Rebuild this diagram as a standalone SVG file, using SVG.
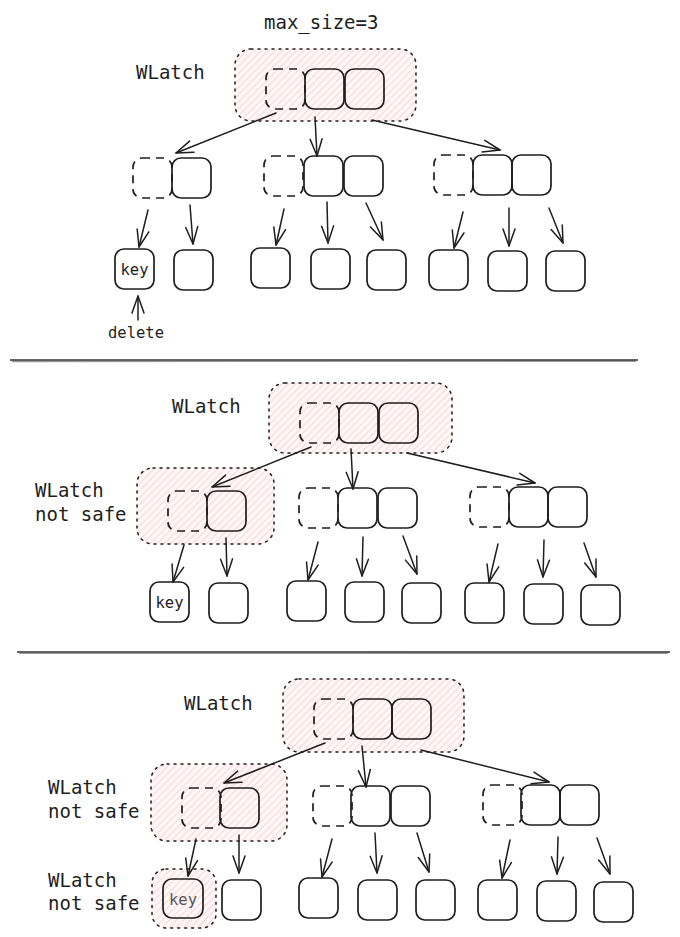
<svg xmlns="http://www.w3.org/2000/svg" width="680" height="937" viewBox="0 0 680 937">
<defs>
<pattern id="hatch" width="5" height="5" patternUnits="userSpaceOnUse" patternTransform="rotate(45)">
<rect width="5" height="5" fill="#fff8f8"/>
<line x1="0" y1="0" x2="0" y2="5" stroke="#ffc9c9" stroke-width="1.6"/>
</pattern>
<marker id="ah" markerWidth="20" markerHeight="20" refX="0" refY="0" orient="auto" markerUnits="userSpaceOnUse" overflow="visible">
<path d="M -17 -6 L 0 0 L -17 6" fill="none" stroke="#1e1e1e" stroke-width="1.5" stroke-linecap="round" stroke-linejoin="round"/>
</marker>
</defs>
<style>
.b{fill:none;stroke:#1e1e1e;stroke-width:1.7}
.d{stroke-dasharray:8 6}
.hl{fill:url(#hatch);stroke:#1e1e1e;stroke-width:1.5;stroke-dasharray:2 5;stroke-linecap:round}
.t{font-family:'DejaVu Sans Mono','Liberation Mono',monospace;font-size:19px;fill:#1e1e1e}
.s{font-family:'DejaVu Sans Mono','Liberation Mono',monospace;font-size:15.5px;fill:#1e1e1e}
.k{text-anchor:middle}
#conn line{stroke:#1e1e1e;stroke-width:1.5;stroke-linecap:round;marker-end:url(#ah)}
.sep{stroke:#333;stroke-width:1.4}
</style>

<!-- Section 1 -->
<text class="t" x="264" y="29">max_size=3</text>
<text class="t" x="136" y="79">WLatch</text>
<g id="s1-root">
<rect class="hl" x="235" y="49" width="181" height="72" rx="16"/>
<rect class="b d" x="266" y="69" width="39" height="40" rx="9"/>
<rect class="b" x="305" y="69" width="39" height="40" rx="9"/>
<rect class="b" x="345" y="69" width="39" height="40" rx="9"/>
</g>
<g id="s1-l2a">
<rect class="b d" x="133" y="158" width="39" height="40" rx="9"/>
<rect class="b" x="172" y="158" width="39" height="40" rx="9"/>
</g>
<g id="s1-l2b">
<rect class="b d" x="264" y="156" width="39" height="40" rx="9"/>
<rect class="b" x="304" y="156" width="39" height="40" rx="9"/>
<rect class="b" x="344" y="156" width="39" height="40" rx="9"/>
</g>
<g id="s1-l2c">
<rect class="b d" x="434" y="155" width="39" height="40" rx="9"/>
<rect class="b" x="473" y="155" width="39" height="40" rx="9"/>
<rect class="b" x="512" y="155" width="39" height="40" rx="9"/>
</g>
<g id="s1-leaf1"><rect class="b" x="115" y="249" width="39" height="40" rx="9"/><text class="s k" x="134.5" y="275">key</text></g>
<g id="s1-leaf2"><rect class="b" x="174" y="250" width="39" height="40" rx="9"/></g>
<g id="s1-leaf3"><rect class="b" x="251" y="248" width="39" height="40" rx="9"/></g>
<g id="s1-leaf4"><rect class="b" x="311" y="249" width="39" height="40" rx="9"/></g>
<g id="s1-leaf5"><rect class="b" x="367" y="250" width="39" height="40" rx="9"/></g>
<g id="s1-leaf6"><rect class="b" x="429" y="250" width="39" height="40" rx="9"/></g>
<g id="s1-leaf7"><rect class="b" x="488" y="251" width="39" height="40" rx="9"/></g>
<g id="s1-leaf8"><rect class="b" x="546" y="251" width="39" height="40" rx="9"/></g>
<text class="s" x="108" y="338">delete</text>

<!-- Section 2 -->
<text class="t" x="172" y="413">WLatch</text>
<text class="t" x="35" y="497">WLatch</text>
<text class="t" x="35" y="521">not safe</text>
<g id="s2-root">
<rect class="hl" x="269" y="383" width="183" height="70" rx="16"/>
<rect class="b d" x="300" y="403" width="39" height="40" rx="9"/>
<rect class="b" x="339" y="403" width="39" height="40" rx="9"/>
<rect class="b" x="379" y="403" width="39" height="40" rx="9"/>
</g>
<g id="s2-l2a">
<rect class="hl" x="137" y="468" width="137" height="76" rx="16"/>
<rect class="b d" x="168" y="491" width="39" height="40" rx="9"/>
<rect class="b" x="207" y="491" width="39" height="40" rx="9"/>
</g>
<g id="s2-l2b">
<rect class="b d" x="299" y="488" width="39" height="40" rx="9"/>
<rect class="b" x="338" y="488" width="39" height="40" rx="9"/>
<rect class="b" x="378" y="488" width="39" height="40" rx="9"/>
</g>
<g id="s2-l2c">
<rect class="b d" x="470" y="487" width="39" height="40" rx="9"/>
<rect class="b" x="509" y="487" width="39" height="40" rx="9"/>
<rect class="b" x="548" y="487" width="39" height="40" rx="9"/>
</g>
<g id="s2-leaf1"><rect class="b" x="150" y="582" width="39" height="40" rx="9"/><text class="s k" x="169.5" y="608">key</text></g>
<g id="s2-leaf2"><rect class="b" x="209" y="583" width="39" height="40" rx="9"/></g>
<g id="s2-leaf3"><rect class="b" x="287" y="581" width="39" height="40" rx="9"/></g>
<g id="s2-leaf4"><rect class="b" x="345" y="582" width="39" height="40" rx="9"/></g>
<g id="s2-leaf5"><rect class="b" x="402" y="583" width="39" height="40" rx="9"/></g>
<g id="s2-leaf6"><rect class="b" x="465" y="583" width="39" height="40" rx="9"/></g>
<g id="s2-leaf7"><rect class="b" x="524" y="584" width="39" height="40" rx="9"/></g>
<g id="s2-leaf8"><rect class="b" x="581" y="585" width="39" height="40" rx="9"/></g>

<!-- Section 3 -->
<text class="t" x="184" y="710">WLatch</text>
<text class="t" x="48" y="794">WLatch</text>
<text class="t" x="48" y="818">not safe</text>
<text class="t" x="48" y="887">WLatch</text>
<text class="t" x="48" y="910">not safe</text>
<g id="s3-root">
<rect class="hl" x="283" y="679" width="181" height="73" rx="16"/>
<rect class="b d" x="314" y="699" width="39" height="40" rx="9"/>
<rect class="b" x="353" y="699" width="39" height="40" rx="9"/>
<rect class="b" x="392" y="699" width="39" height="40" rx="9"/>
</g>
<g id="s3-l2a">
<rect class="hl" x="151" y="764" width="136" height="77" rx="16"/>
<rect class="b d" x="182" y="788" width="39" height="40" rx="9"/>
<rect class="b" x="220" y="788" width="39" height="40" rx="9"/>
</g>
<g id="s3-l2b">
<rect class="b d" x="313" y="786" width="39" height="40" rx="9"/>
<rect class="b" x="351" y="786" width="39" height="40" rx="9"/>
<rect class="b" x="391" y="786" width="39" height="40" rx="9"/>
</g>
<g id="s3-l2c">
<rect class="b d" x="483" y="785" width="39" height="40" rx="9"/>
<rect class="b" x="521" y="785" width="39" height="40" rx="9"/>
<rect class="b" x="560" y="785" width="39" height="40" rx="9"/>
</g>
<g id="s3-leaf1">
<rect class="hl" x="152" y="869" width="64" height="59" rx="14"/>
<rect class="b" x="163" y="879" width="40" height="39" rx="9"/>
<text class="s k" x="183" y="905" style="fill:#555">key</text>
</g>
<g id="s3-leaf2"><rect class="b" x="222" y="880" width="39" height="40" rx="9"/></g>
<g id="s3-leaf3"><rect class="b" x="299" y="878" width="39" height="40" rx="9"/></g>
<g id="s3-leaf4"><rect class="b" x="358" y="880" width="39" height="40" rx="9"/></g>
<g id="s3-leaf5"><rect class="b" x="416" y="880" width="39" height="40" rx="9"/></g>
<g id="s3-leaf6"><rect class="b" x="478" y="880" width="39" height="40" rx="9"/></g>
<g id="s3-leaf7"><rect class="b" x="537" y="881" width="39" height="40" rx="9"/></g>
<g id="s3-leaf8"><rect class="b" x="594" y="882" width="39" height="40" rx="9"/></g>

<!-- separators -->
<g id="separators">
<line class="sep" x1="10" y1="360" x2="638" y2="360"/>
<line class="sep" x1="12" y1="361.5" x2="636" y2="361.2" opacity="0.5"/>
<line class="sep" x1="17" y1="652" x2="670" y2="652"/>
<line class="sep" x1="19" y1="653.4" x2="668" y2="653.2" opacity="0.5"/>
</g>

<g id="conn">
<line x1="276" y1="113" x2="176" y2="153"/>
<line x1="315" y1="117" x2="317" y2="156"/>
<line x1="372" y1="120" x2="500" y2="150"/>
<line x1="148" y1="210" x2="139" y2="247"/>
<line x1="190" y1="205" x2="193" y2="244"/>
<line x1="284" y1="209" x2="276" y2="245"/>
<line x1="327" y1="202" x2="328" y2="243"/>
<line x1="366" y1="203" x2="383" y2="240"/>
<line x1="463" y1="212" x2="454" y2="248"/>
<line x1="509" y1="208" x2="509" y2="246"/>
<line x1="549" y1="208" x2="563" y2="243"/>
<line x1="138" y1="320" x2="138" y2="296"/>

<line x1="311" y1="447" x2="212" y2="487"/>
<line x1="351" y1="449" x2="353" y2="489"/>
<line x1="407" y1="453" x2="535" y2="483"/>
<line x1="184" y1="545" x2="173" y2="582"/>
<line x1="226" y1="538" x2="227" y2="576"/>
<line x1="318" y1="542" x2="308" y2="580"/>
<line x1="363" y1="537" x2="362" y2="576"/>
<line x1="403" y1="536" x2="417" y2="574"/>
<line x1="498" y1="544" x2="489" y2="582"/>
<line x1="544" y1="540" x2="543" y2="577"/>
<line x1="584" y1="543" x2="596" y2="577"/>

<line x1="325" y1="743" x2="224" y2="783"/>
<line x1="362" y1="746" x2="366" y2="787"/>
<line x1="421" y1="750" x2="549" y2="782"/>
<line x1="196" y1="839" x2="188" y2="876"/>
<line x1="239" y1="835" x2="239" y2="873"/>
<line x1="332" y1="839" x2="322" y2="877"/>
<line x1="375" y1="833" x2="377" y2="873"/>
<line x1="417" y1="833" x2="429" y2="872"/>
<line x1="510" y1="840" x2="502" y2="878"/>
<line x1="558" y1="837" x2="557" y2="874"/>
<line x1="597" y1="838" x2="610" y2="874"/>
</g>
</svg>
